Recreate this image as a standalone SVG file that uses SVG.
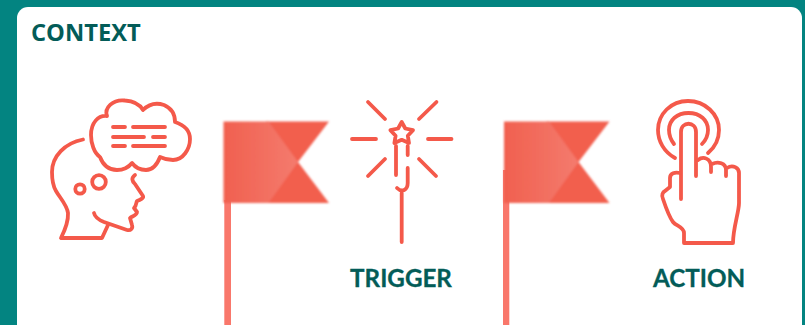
<svg xmlns="http://www.w3.org/2000/svg" width="805" height="325" viewBox="0 0 805 325">
<style>
.i{fill:none;stroke:#f4594a;stroke-width:3.800;stroke-linecap:round;stroke-linejoin:round}
.t{font-family:"Open Sans","Noto Sans",sans-serif;font-weight:700;fill:#035c58}
.l{font-family:Lato,"Open Sans",sans-serif;font-weight:700;fill:#035c58;font-size:24.200px;text-anchor:middle;stroke:#035c58;stroke-width:.3}
.pole{fill:#f9776b}
.tail{fill:#f25f4e}
</style>
<defs>
<filter id="b" x="-5%" y="-5%" width="110%" height="110%"><feGaussianBlur stdDeviation="1"/></filter>
<linearGradient id="g" x1="0" x2="1" y1="0" y2="0"><stop offset="0" stop-color="#f1604f"/><stop offset="1" stop-color="#f47b6e"/></linearGradient>
<g id="flag">
<g filter="url(#b)">
<path class="tail" d="M266 121.500H329L298 162L329 203H266Z"/>
<path fill="url(#g)" d="M223.500 121.500H268.500L298 162L268.500 203H223.500Z"/>
</g>
</g>
</defs>
<rect width="805" height="325" fill="#038481"/>
<rect x="17" y="7" width="785" height="330" rx="11" fill="#fff"/>
<text class="t" x="31" y="41" font-size="23.700">CONTEXT</text>
<g id="context-icon" class="i">
<path d="M83 139.500C65 143 52 156 52 172C52 180 53 186 56 191C60 198 67 205 68 213C68.500 222 65 230 61 238H102L108 225"/>
<path d="M94 213C95 218 99 220 104 222L127 230C131 231 133 228 132 225L130 218C133 216 137 215 137 212L134 208C137 205 136 202 137 201C140 200 144 198 143 196L135 184C132 181 131 178 135 175"/>
<circle cx="99" cy="182" r="6.800"/>
<circle cx="80" cy="189" r="4.700"/>
<path d="M107 116C104 108 113 99 125 100.500C134 101 140 105 143 110C150 103 158 103 164 105C171 108 175 114 175 122C184 125 190 131 190 139C190 149 183 160 173 160C168 160 164 159 160 157C157 165 152 170 146 170C140 170 135 167 132 163C128 168 123 170 117 170C109 170 103 165 100 157C94 153 91 143 91 135C91 123 98 115 107 116Z"/>
<path d="M113 127H125M133 127H165M113 137H144M153 137H165M113 146H125M133 146H165"/>
</g>
<g id="flag-1"><rect class="pole" x="224.300" y="200" width="6.700" height="125"/><use href="#flag"/></g>
<g id="trigger-icon" class="i">
<path d="M368 102L385 119M436.500 102L419 119M352 139H376M428 139H451.500M368 176L385 159M436 176L419 159"/>
<path d="M401.700 122L405.300 128.500L413 130.200L407.800 135.800L409 143L401.700 139.800L394.400 143L395.600 135.800L390.400 130.200L398.100 128.500Z"/>
<path d="M396 146V175M407.700 146V155M407.700 168V183C407.700 190 402 193 397 188"/>
<path d="M401.700 193V242"/>
</g>
<text class="l" x="401" y="287">TRIGGER</text>
<g id="flag-2"><rect class="pole" x="503" y="170" width="6.300" height="155"/><use href="#flag" x="280.500"/></g>
<g id="action-icon" class="i">
<path d="M675 158C664 152 658 141 658 130C658 114 671 101 688 101C705 101 719 114 719 130C719 140 714 148 708 153"/>
<path d="M674 144C671 140 669 135 669 130C669 120 677 113 688.500 113C700 113 708 120 708 130C708 135 706 140 702 144"/>
<path d="M681 199V132C681 121 696 121 696 132V176"/>
<path d="M698 160C703 156 711 158 711 167V172M712 164C718 161 726 163 726 170V176M727 168C733 164 739 168 739 173V203C739 212 733 228 733 243H684V233C684 227 676 226 673 222C670 218 665 205 663 199C661 195 663 192 665 191L670 187V178C670 173 675 172 680 173"/>
</g>
<text class="l" x="699" y="287">ACTION</text>
</svg>
